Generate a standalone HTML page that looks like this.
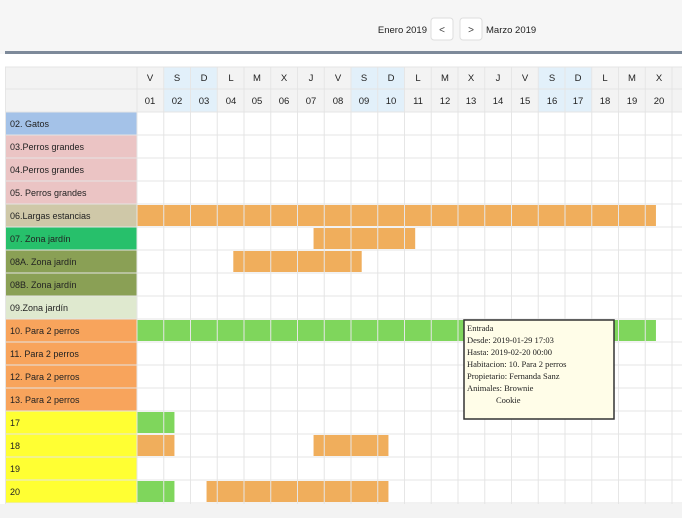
<!DOCTYPE html>
<html><head><meta charset="utf-8"><style>
html,body{margin:0;padding:0;background:#f6f6f6;width:682px;height:518px;overflow:hidden}
svg{display:block;font-family:"Liberation Sans",sans-serif}
</style></head><body>
<svg id="s" width="682" height="518" xmlns="http://www.w3.org/2000/svg">
<rect x="0" y="0" width="682" height="518" fill="#f6f6f6"/>
<rect x="0" y="54" width="682" height="464" fill="#fff"/>
<rect x="5" y="51" width="677" height="3" fill="#7d8a9a"/>
<text x="427" y="33" font-size="9.5" fill="#222" text-anchor="end">Enero 2019</text>
<rect x="431" y="18" width="22" height="22" rx="3" fill="#fff" stroke="#ddd"/>
<text x="442" y="33" font-size="10" fill="#444" text-anchor="middle">&lt;</text>
<rect x="460" y="18" width="22" height="22" rx="3" fill="#fff" stroke="#ddd"/>
<text x="471" y="33" font-size="10" fill="#444" text-anchor="middle">&gt;</text>
<text x="486" y="33" font-size="9.5" fill="#222">Marzo 2019</text>
<rect x="5" y="67" width="677" height="45" fill="#f3f3f3"/>
<g id="wk"></g>
<g id="rows"></g>
<g id="bars"></g>
<g id="grid"></g>
<g font-size="9.5" fill="#222" text-anchor="middle">
<text x="150" y="81">V</text><text x="177" y="81">S</text><text x="204" y="81">D</text><text x="231" y="81">L</text><text x="257" y="81">M</text><text x="284" y="81">X</text><text x="311" y="81">J</text><text x="338" y="81">V</text><text x="364" y="81">S</text><text x="391" y="81">D</text><text x="418" y="81">L</text><text x="445" y="81">M</text><text x="471" y="81">X</text><text x="498" y="81">J</text><text x="525" y="81">V</text><text x="552" y="81">S</text><text x="578" y="81">D</text><text x="605" y="81">L</text><text x="632" y="81">M</text><text x="659" y="81">X</text>
<text x="150" y="104">01</text><text x="177" y="104">02</text><text x="204" y="104">03</text><text x="231" y="104">04</text><text x="257" y="104">05</text><text x="284" y="104">06</text><text x="311" y="104">07</text><text x="338" y="104">08</text><text x="364" y="104">09</text><text x="391" y="104">10</text><text x="418" y="104">11</text><text x="445" y="104">12</text><text x="471" y="104">13</text><text x="498" y="104">14</text><text x="525" y="104">15</text><text x="552" y="104">16</text><text x="578" y="104">17</text><text x="605" y="104">18</text><text x="632" y="104">19</text><text x="659" y="104">20</text>
</g>
<g font-size="9" fill="#222">
<text x="10" y="127">02. Gatos</text>
<text x="10" y="150">03.Perros grandes</text>
<text x="10" y="173">04.Perros grandes</text>
<text x="10" y="196">05. Perros grandes</text>
<text x="10" y="219">06.Largas estancias</text>
<text x="10" y="242">07. Zona jardín</text>
<text x="10" y="265">08A. Zona jardín</text>
<text x="10" y="288">08B. Zona jardín</text>
<text x="10" y="311">09.Zona jardín</text>
<text x="10" y="334">10. Para 2 perros</text>
<text x="10" y="357">11. Para 2 perros</text>
<text x="10" y="380">12. Para 2 perros</text>
<text x="10" y="403">13. Para 2 perros</text>
<text x="10" y="426">17</text>
<text x="10" y="449">18</text>
<text x="10" y="472">19</text>
<text x="10" y="495">20</text>
</g>
<rect x="464" y="320" width="150" height="99" fill="#fffde8" stroke="#333" stroke-width="1.5"/>
<g font-family="Liberation Serif,serif" font-size="8.5" fill="#222">
<text x="467" y="331">Entrada</text>
<text x="467" y="343">Desde: 2019-01-29 17:03</text>
<text x="467" y="355">Hasta: 2019-02-20 00:00</text>
<text x="467" y="367">Habitacion: 10. Para 2 perros</text>
<text x="467" y="379">Propietario: Fernanda Sanz</text>
<text x="467" y="391">Animales: Brownie</text>
<text x="496" y="403">Cookie</text>
</g>
</svg>
<script>
const NS="http://www.w3.org/2000/svg";
function R(g,x,y,w,h,f){const r=document.createElementNS(NS,"rect");r.setAttribute("x",x);r.setAttribute("y",y);r.setAttribute("width",w);r.setAttribute("height",h);r.setAttribute("fill",f);document.getElementById(g).appendChild(r);}
const X0=137,W=26.75,Y0=112,H=23;
[1,2,8,9,15,16].forEach(i=>R("wk",X0+i*W,67,W,45,"#e2f0fa"));
const cols=["#a4c2e8","#ebc4c4","#ebc4c4","#ebc4c4","#cfc8a8","#27c06b","#8aa055","#8aa055","#dfe9cf","#f8a45c","#f8a45c","#f8a45c","#f8a45c","#ffff33","#ffff33","#ffff33","#ffff33"];
cols.forEach((c,i)=>R("rows",5,Y0+i*H,132,H,c));
const O="#f0ae5c",G="#7fd65c";
function B(row,a,b,c){R("bars",X0+a*W,Y0+row*H+1,(b-a)*W,H-2,c);}
B(4,0,19.4,O);B(5,6.6,10.4,O);B(6,3.6,8.4,O);B(9,0,19.4,G);
B(13,0,1.4,G);B(14,0,1.4,O);B(14,6.6,9.4,O);B(16,0,1.4,G);B(16,2.6,9.4,O);
for(let i=0;i<=21;i++)R("grid",X0+i*W-0.5,67,1,437,"#e6e6e6");
R("grid",5,67,1,437,"#e6e6e6");
for(let j=0;j<=19;j++){const y=j<1?67:(j==1?89:Y0+(j-2)*H);R("grid",5,y-0.5,677,1,"#e4e4e4");}
R("grid",0,504,682,14,"#f3f3f3");
</script>
</body></html>
